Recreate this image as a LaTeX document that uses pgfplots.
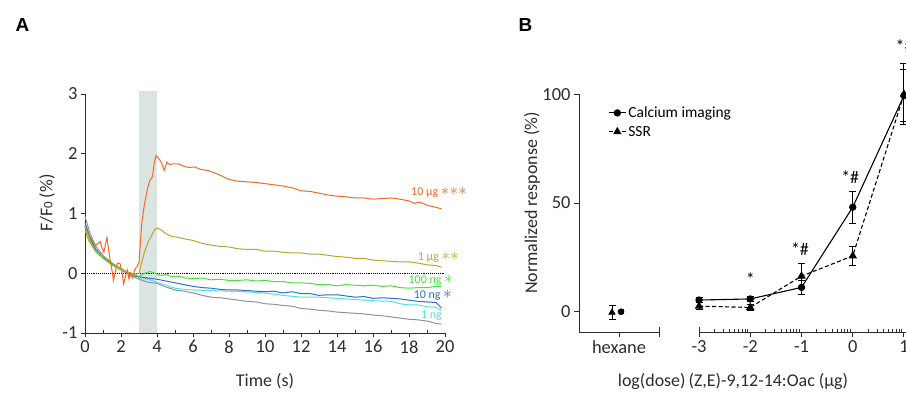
\documentclass[border=0pt]{standalone}
\usepackage{pgfplots}
\pgfplotsset{compat=1.18}
\usepackage{fontspec}
\setmainfont{Carlito}
\newfontfamily\panelfont{Liberation Sans}
\definecolor{cOr}{HTML}{F26A1F}
\definecolor{cOl}{HTML}{B8A62A}
\definecolor{cGr}{HTML}{4ADF3A}
\definecolor{cBl}{HTML}{2E6FC9}
\definecolor{cCy}{HTML}{4FE3DC}
\definecolor{cGy}{HTML}{8A93A3}
\definecolor{cSh}{HTML}{DCE4E1}
\definecolor{axc}{HTML}{2B2B33}
\newcommand{\st}{{\fontsize{17}{17}\selectfont$\ast$}}
\pgfplotsset{
  every axis/.append style={
    scale only axis, anchor=south west, clip=false,
    axis x line*=bottom, axis y line*=left,
    axis line style={-, line width=1bp, axc},
    every tick/.style={line width=1bp, axc},
    tick label style={font=\fontsize{18.5}{20}\selectfont, text=axc},
    /pgf/number format/assume math mode=true,
    tick align=outside,
  }
}
\begin{document}
\begin{tikzpicture}[x=1bp,y=1bp]
\useasboundingbox (0,0) rectangle (906,392);
% ---------------- Panel A ----------------
\begin{axis}[at={(85bp,59bp)}, width=360bp, height=239bp,
  xmin=0, xmax=20, ymin=-1, ymax=3,
  xtick={0,2,...,20}, minor x tick num=1, ytick={-1,0,1,2,3},
  major tick length=4bp, minor tick length=3bp,
  minor x tick style={yshift=3bp}]
\addplot[draw=none, fill=cSh] coordinates {(3,-1) (4,-1) (4,3.05) (3,3.05)} -- cycle;
\addplot[black, line width=0.9bp, densely dotted] coordinates {(0,0) (20,0)};
\addplot[cGy, line width=1bp] coordinates {
(0,0.95)(0.3,0.65)(0.6,0.45)(1,0.30)(1.5,0.17)(2,0.07)(2.5,-0.03)(3,-0.10)(3.5,-0.15)(4,-0.17)(4.5,-0.23)(5,-0.28)(5.5,-0.30)(6,-0.33)(6.5,-0.37)(7,-0.40)(7.5,-0.41)(8,-0.43)(8.5,-0.45)(9,-0.47)(9.5,-0.48)(10,-0.51)(10.5,-0.52)(11,-0.54)(11.5,-0.55)(12,-0.59)(12.5,-0.60)(13,-0.62)(13.5,-0.63)(14,-0.65)(14.5,-0.66)(15,-0.67)(15.5,-0.68)(16,-0.70)(16.5,-0.71)(17,-0.73)(17.5,-0.75)(18,-0.77)(18.5,-0.78)(19,-0.80)(19.5,-0.84)(19.8,-0.85)};
\addplot[cCy, line width=1bp] coordinates {
(0,0.80)(0.3,0.55)(0.6,0.40)(1,0.27)(1.5,0.15)(2,0.06)(2.5,-0.03)(3,-0.07)(3.5,-0.10)(4,-0.15)(4.5,-0.20)(5,-0.25)(5.5,-0.27)(6,-0.28)(7,-0.29)(8,-0.30)(9,-0.31)(10,-0.33)(11,-0.37)(12,-0.40)(13,-0.40)(14,-0.42)(15,-0.44)(16,-0.46)(17,-0.47)(17.5,-0.51)(18,-0.53)(18.5,-0.53)(19,-0.56)(19.5,-0.57)(19.8,-0.62)};
\addplot[cBl, line width=1bp] coordinates {
(0,0.85)(0.3,0.58)(0.6,0.40)(1,0.27)(1.5,0.15)(2,0.06)(2.5,-0.03)(3,-0.06)(3.5,-0.08)(4,-0.10)(4.5,-0.13)(5,-0.16)(5.5,-0.19)(6,-0.22)(6.5,-0.24)(7,-0.25)(7.5,-0.27)(8,-0.28)(8.5,-0.28)(9,-0.29)(9.5,-0.30)(10,-0.31)(10.5,-0.30)(11,-0.33)(11.5,-0.31)(12,-0.34)(12.5,-0.34)(13,-0.37)(13.5,-0.36)(14,-0.36)(14.5,-0.38)(15,-0.40)(15.5,-0.39)(16,-0.42)(16.5,-0.41)(17,-0.42)(17.5,-0.43)(18,-0.45)(18.5,-0.47)(19,-0.48)(19.5,-0.49)(19.8,-0.58)};
\addplot[cGr, line width=1bp] coordinates {
(0,0.78)(0.3,0.52)(0.6,0.36)(1,0.25)(1.5,0.14)(2,0.06)(2.5,-0.02)(3,-0.05)(3.3,0.0)(3.6,0.03)(3.9,0.0)(4.2,-0.04)(4.5,-0.02)(4.8,-0.06)(5.2,-0.05)(5.6,-0.08)(6,-0.09)(6.5,-0.08)(7,-0.11)(7.5,-0.10)(8,-0.12)(8.5,-0.12)(9,-0.11)(9.5,-0.13)(10,-0.12)(10.5,-0.14)(11,-0.14)(11.5,-0.16)(12,-0.16)(12.5,-0.17)(13,-0.19)(13.5,-0.19)(14,-0.21)(14.5,-0.19)(15,-0.20)(15.5,-0.21)(16,-0.20)(16.5,-0.22)(17,-0.21)(17.5,-0.24)(18,-0.25)(18.5,-0.24)(19,-0.24)(19.5,-0.22)(19.8,-0.22)};
\addplot[cOl, line width=1bp] coordinates {
(0,0.72)(0.2,0.55)(0.4,0.45)(0.6,0.38)(0.8,0.32)(1,0.28)(1.3,0.22)(1.6,0.15)(2,0.08)(2.4,0.02)(2.8,-0.02)(3,0.0)(3.1,0.12)(3.3,0.35)(3.5,0.52)(3.7,0.63)(3.85,0.72)(4,0.76)(4.2,0.73)(4.5,0.66)(4.8,0.62)(5.2,0.60)(5.6,0.57)(6,0.55)(6.5,0.50)(7,0.47)(7.5,0.45)(8,0.44)(8.5,0.41)(9,0.40)(9.5,0.40)(10,0.37)(10.5,0.37)(11,0.35)(11.5,0.34)(12,0.34)(12.5,0.32)(13,0.32)(13.5,0.30)(14,0.28)(14.5,0.27)(15,0.25)(15.5,0.25)(16,0.22)(16.5,0.21)(17,0.20)(17.5,0.19)(18,0.19)(18.5,0.17)(19,0.14)(19.5,0.13)(19.8,0.10)};
\addplot[cOr, line width=1bp] coordinates {
(0,0.80)(0.2,0.65)(0.4,0.55)(0.5,0.50)(0.6,0.47)(0.75,0.50)(0.85,0.53)(0.95,0.42)(1.05,0.35)(1.15,0.50)(1.22,0.60)(1.3,0.42)(1.4,0.22)(1.5,0.05)(1.58,-0.12)(1.7,0.05)(1.8,0.17)(1.95,0.16)(2.05,0.02)(2.15,-0.18)(2.25,-0.05)(2.35,0.05)(2.45,-0.10)(2.55,0.0)(2.65,-0.08)(2.75,0.05)(2.9,0.12)(3,0.18)(3.15,0.83)(3.3,1.15)(3.5,1.45)(3.6,1.55)(3.75,1.62)(3.85,1.85)(3.95,1.97)(4.1,1.92)(4.25,1.85)(4.4,1.72)(4.55,1.86)(4.7,1.82)(4.9,1.83)(5.2,1.83)(5.5,1.79)(5.8,1.77)(6.1,1.78)(6.4,1.74)(6.8,1.72)(7.2,1.68)(7.6,1.63)(8,1.57)(8.5,1.54)(9,1.53)(9.5,1.52)(10,1.50)(10.5,1.48)(11,1.46)(11.5,1.43)(12,1.38)(12.5,1.37)(13,1.34)(13.5,1.31)(14,1.29)(14.5,1.28)(15,1.26)(15.5,1.26)(16,1.24)(16.5,1.25)(17,1.26)(17.5,1.24)(18,1.21)(18.3,1.17)(18.6,1.19)(19,1.14)(19.4,1.11)(19.8,1.08)};
\begin{scope}[font=\fontsize{12}{12}\selectfont, inner sep=0pt]
\node[anchor=east, text=cOr] at (axis cs:21.22,1.35) {10 µg \st\st\st};
\node[anchor=east, text=cOl] at (axis cs:20.78,0.26) {1 µg \st\st};
\node[anchor=east, text=cGr] at (axis cs:20.44,-0.12) {100 ng \st};
\node[anchor=east, text=cBl] at (axis cs:20.39,-0.38) {10 ng \st};
\node[anchor=east, text=cCy] at (axis cs:19.83,-0.71) {1 ng};
\end{scope}
\end{axis}
% ---------------- Panel B, hexane ----------------
\begin{axis}[at={(579bp,60bp)}, width=80bp, height=237.7bp,
  xmin=-1, xmax=1, ymin=-9.3, ymax=100,
  xtick={0}, xticklabels={hexane}, ytick={0,50,100},
  major tick length=5bp,
  extra x ticks={1}, extra x tick labels={},
  extra x tick style={tick align=center, major tick length=10bp}]
\addplot[black, only marks, mark=triangle*, mark size=3.8bp,
  error bars/.cd, y dir=both, y explicit, error bar style={line width=1bp},
  error mark options={rotate=90, mark size=3.5bp, line width=1bp}]
  coordinates {(-0.175,-0.3) +- (0,3.3)};
\addplot[black, only marks, mark=*, mark size=3.1bp,
  error bars/.cd, y dir=both, y explicit, error bar style={line width=1bp},
  error mark options={rotate=90, mark size=2.5bp, line width=1bp}]
  coordinates {(0.05,0) +- (0,1.0)};
\end{axis}
% ---------------- Panel B, doses ----------------
\begin{axis}[at={(699bp,60bp)}, width=210.1bp, height=237.7bp,
  xmin=-3, xmax=1.1, ymin=-9.3, ymax=100, hide y axis,
  xtick={-2,-1,0,1}, extra x ticks={-3}, extra x tick labels={-3},
  extra x tick style={tick align=center, major tick length=10bp},
  major tick length=5bp, minor tick length=3bp,
  minor x tick style={yshift=3bp},
  minor xtick={-2.699,-2.523,-2.398,-2.301,-2.222,-2.155,-2.097,-2.046,
    -1.699,-1.523,-1.398,-1.301,-1.222,-1.155,-1.097,-1.046,
    -0.699,-0.523,-0.398,-0.301,-0.222,-0.155,-0.097,-0.046,
    0.301,0.477,0.602,0.699,0.778,0.845,0.903,0.954},
  legend style={at={(axis description cs:-0.447,0.965)}, anchor=north west,
    draw=none, fill=none, font=\fontsize{15.5}{17}\selectfont, row sep=3bp,
    cells={anchor=west}},
  legend cell align=left]
\addplot[black, line width=1.1bp, mark=*, mark size=3.1bp,
  error bars/.cd, y dir=both, y explicit, error bar style={line width=1bp, solid},
  error mark options={rotate=90, mark size=3.5bp, line width=1bp, solid}]
  coordinates {(-3,5.4) +- (0,1.2) (-2,5.9) +- (0,1.2) (-1,11.2) +- (0,3.2) (0,48.1) +- (0,7.3) (1,99.4) +- (0,12)};
\addlegendentry{Calcium imaging}
\addplot[black, line width=1.1bp, dash pattern=on 4bp off 2.5bp, mark=triangle*, mark size=3.8bp,
  mark options={solid},
  error bars/.cd, y dir=both, y explicit, error bar style={line width=1bp, solid},
  error mark options={rotate=90, mark size=3.5bp, line width=1bp, solid}]
  coordinates {(-3,2.6) +- (0,1.5) (-2,2.0) +- (0,1.5) (-1,16.4) +- (0,5.8) (0,25.7) +- (0,4.3) (1,100) +- (0,14)};
\addlegendentry{SSR}
\begin{scope}[font=\fontsize{18}{20}\selectfont]
\node at (axis cs:-2,15) {*};
\node at (axis cs:-1.03,29) {*\#};
\node at (axis cs:-0.05,62) {*\#};
\node at (axis cs:1.01,122) {*\#};
\end{scope}
\end{axis}
% ---------------- Labels ----------------
\node[anchor=base west, font=\panelfont\bfseries\fontsize{19}{20}\selectfont] at (12,361) {A};
\node[anchor=base west, font=\panelfont\bfseries\fontsize{19}{20}\selectfont] at (515,361) {B};
\node[anchor=base, font=\fontsize{18}{20}\selectfont, text=axc] at (265,6) {Time (s)};
\node[rotate=90, font=\fontsize{18}{20}\selectfont, text=axc] at (47,189) {F/F{\fontsize{13}{13}\selectfont 0} (\%)};
\node[anchor=base, font=\fontsize{18}{20}\selectfont, text=axc] at (733,6) {log(dose)\,(Z,E)-9,12-14:Oac (µg)};
\node[rotate=90, font=\fontsize{18}{20}\selectfont, text=axc] at (532,189) {Normalized response (\%)};
\end{tikzpicture}
\end{document}
